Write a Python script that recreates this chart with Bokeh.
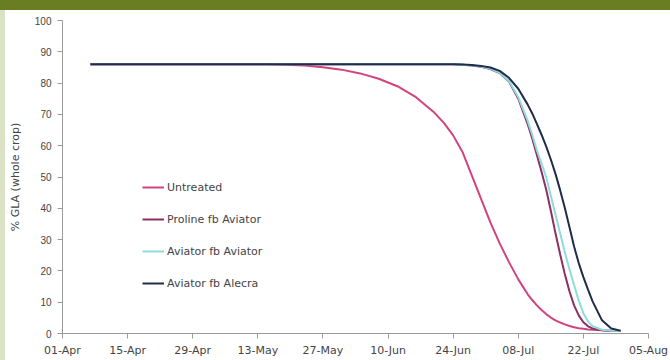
import pandas as pd
from bokeh.plotting import figure
from bokeh.models import (FixedTicker, DatetimeTickFormatter, Range1d, Legend,
                          LegendItem, Div)
from bokeh.layouts import column, row
from bokeh.embed import file_html
from bokeh.resources import INLINE

# ---------------- data ----------------
dates = ["2010-04-07", "2010-05-01", "2010-05-15", "2010-05-19", "2010-05-23",
         "2010-05-27", "2010-05-31", "2010-06-04", "2010-06-08", "2010-06-12",
         "2010-06-16", "2010-06-20", "2010-06-22", "2010-06-24", "2010-06-26",
         "2010-06-28", "2010-06-30", "2010-07-02", "2010-07-04", "2010-07-06",
         "2010-07-08", "2010-07-10", "2010-07-11", "2010-07-12", "2010-07-13",
         "2010-07-14", "2010-07-15", "2010-07-16", "2010-07-17", "2010-07-18",
         "2010-07-19", "2010-07-20", "2010-07-21", "2010-07-22", "2010-07-23",
         "2010-07-24", "2010-07-26", "2010-07-28", "2010-07-30"]

untreated = [86, 86, 86, 85.9, 85.6, 85.1, 84.3, 83.1, 81.4, 79, 75.5, 70.5,
             67.3, 63.3, 58, 50.5, 43, 35.5, 28.8, 22.8, 17.3, 12.6, 10.7, 9,
             7.5, 6.2, 5.1, 4.2, 3.5, 2.9, 2.4, 2.0, 1.7, 1.5, 1.3, 1.2, 1.0,
             0.9, 0.8]
proline_fb_aviator = [86, 86, 86, 86, 86, 86, 86, 86, 86, 86, 86, 86, 86, 86,
                      85.9, 85.6, 85.2, 84.5, 83.2, 80.5, 75, 67, 62.3, 57,
                      51.7, 46, 39.2, 32, 25.3, 19, 13.5, 9, 5.8, 3.6, 2.3,
                      1.6, 1.0, 0.8, 0.8]
aviator_fb_aviator = [86, 86, 86, 86, 86, 86, 86, 86, 86, 86, 86, 86, 86, 86,
                      85.9, 85.7, 85.3, 84.6, 83.3, 80.7, 75.5, 68, 63.5, 58.5,
                      54.3, 50, 44, 38, 32, 26, 20.5, 15.5, 10.5, 6.5, 3.8,
                      2.3, 1.2, 0.9, 0.8]
aviator_fb_alecra = [86, 86, 86, 86, 86, 86, 86, 86, 86, 86, 86, 86, 86, 86,
                     85.95, 85.8, 85.5, 85, 83.9, 81.7, 78.2, 73.2, 70.3, 67,
                     63.5, 59.8, 55.6, 51, 45.8, 40.2, 34, 27.8, 22.5, 18, 14,
                     10.2, 4.2, 1.6, 0.9]

series_names = ["Untreated", "Proline fb Aviator", "Aviator fb Aviator", "Aviator fb Alecra"]
series_colors = ["#d2437e", "#8e2f62", "#8fdcdc", "#1f2c4c"]

x_tick_dates = ["2010-04-01", "2010-04-15", "2010-04-29", "2010-05-13",
                "2010-05-27", "2010-06-10", "2010-06-24", "2010-07-08",
                "2010-07-22", "2010-08-05"]
y_ticks = [0, 10, 20, 30, 40, 50, 60, 70, 80, 90, 100]

# ---------------- figure ----------------
x = pd.to_datetime(dates)
tick_dt = pd.to_datetime(x_tick_dates)
tick_ms = [t.timestamp() * 1000 for t in tick_dt]

p = figure(width=665, height=350, x_axis_type="datetime",
           output_backend="svg", toolbar_location=None,
           x_range=Range1d(tick_dt[0], tick_dt[-1]),
           y_range=Range1d(0, 100),
           min_border_left=55, min_border_right=22,
           min_border_top=10, min_border_bottom=27)
p.outline_line_color = None
p.xgrid.visible = False
p.ygrid.visible = False
p.background_fill_color = "white"
p.border_fill_color = "white"

p.xaxis.ticker = FixedTicker(ticks=tick_ms)
fmt = "%d-%b"
p.xaxis.formatter = DatetimeTickFormatter(milliseconds=fmt, seconds=fmt, minsec=fmt,
                                          minutes=fmt, hourmin=fmt, hours=fmt,
                                          days=fmt, months=fmt, years=fmt)
p.yaxis.ticker = FixedTicker(ticks=y_ticks)

for ax in (p.xaxis[0], p.yaxis[0]):
    ax.axis_line_color = "#9a9a9a"
    ax.major_tick_line_color = "#9a9a9a"
    ax.minor_tick_line_color = None
    ax.major_tick_in = 0
    ax.major_tick_out = 5
    ax.major_label_text_color = "#444444"

p.xaxis.major_label_text_font = "DejaVu Sans"
p.xaxis.major_label_text_font_size = "11px"
p.xaxis.major_label_standoff = 5
p.yaxis.major_label_text_font = "Liberation Sans"
p.yaxis.major_label_text_font_size = "10px"
p.yaxis.major_label_standoff = 6

p.yaxis.axis_label = "% GLA (whole crop)"
p.yaxis.axis_label_text_font = "DejaVu Sans"
p.yaxis.axis_label_text_font_size = "11px"
p.yaxis.axis_label_text_font_style = "normal"
p.yaxis.axis_label_text_color = "#444444"
p.yaxis.axis_label_standoff = 10

all_series = [untreated, proline_fb_aviator, aviator_fb_aviator, aviator_fb_alecra]
items = []
for name, vals, col in zip(series_names, all_series, series_colors):
    r = p.line(x, vals, line_color=col, line_width=2)
    items.append(LegendItem(label=name, renderers=[r]))

legend = Legend(items=items, location=(80, 40), orientation="vertical",
                border_line_color=None, background_fill_alpha=0,
                padding=0, margin=0, spacing=12, glyph_width=22,
                glyph_height=20, label_height=20, label_standoff=3,
                label_text_font="DejaVu Sans", label_text_font_size="11px",
                label_text_color="#444444")
p.add_layout(legend, "center")

top_bar = Div(text="", width=670, height=10, margin=0,
              styles={"background-color": "#6a7d22"})
left_strip = Div(text="", width=5, height=350, margin=0,
                 styles={"background-color": "#d9e2c4"})
layout = column(top_bar, row(left_strip, p, spacing=0), spacing=0)

open("out.html", "w").write(file_html(layout, INLINE))
